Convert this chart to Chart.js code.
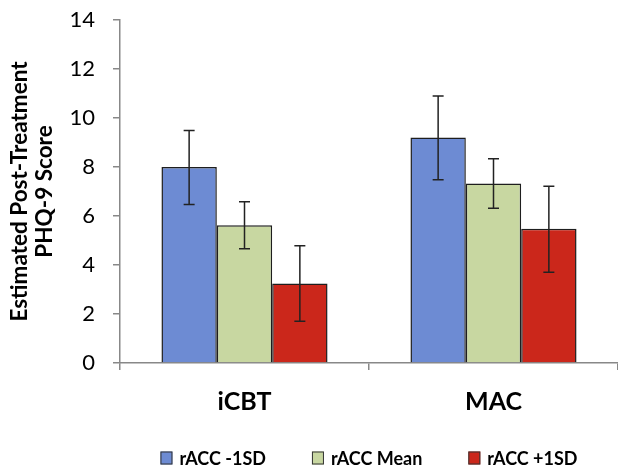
<!DOCTYPE html>
<html><head><meta charset="utf-8">
<script src="https://cdn.jsdelivr.net/npm/chart.js@4"></script>
<style>html,body{margin:0;padding:0;background:#fff}#wrap{width:618px;height:468px}</style>
</head><body><div id="wrap"><canvas id="c"></canvas></div>
<script>
const categories = ['iCBT', 'MAC'];
const seriesNames = ['rACC -1SD', 'rACC Mean', 'rACC +1SD'];
const minus1SD = [8.0, 9.2];
const meanVals = [5.62, 7.33];
const plus1SD = [3.25, 5.48];
const minus1SDLow = [6.47, 7.48];
const minus1SDHigh = [9.49, 10.9];
const meanLow = [4.66, 6.32];
const meanHigh = [6.58, 8.34];
const plus1SDLow = [1.7, 3.7];
const plus1SDHigh = [4.79, 7.21];
const yTicks = [0, 2, 4, 6, 8, 10, 12, 14];
const colors = ['#6d8bd3', '#c8d7a1', '#cb271b'];

const FONT = 'Lato, "Liberation Sans", sans-serif';

const errorBars = {
  id: 'errorBars',
  afterDatasetsDraw(chart) {
    const ctx = chart.ctx, y = chart.scales.y;
    chart.data.datasets.forEach((ds, i) => {
      const meta = chart.getDatasetMeta(i);
      meta.data.forEach((bar, j) => {
        const yl = y.getPixelForValue(ds.errLow[j]);
        const yh = y.getPixelForValue(ds.errHigh[j]);
        const x = bar.x;
        ctx.save();
        ctx.strokeStyle = '#222';
        ctx.lineWidth = 1.5;
        ctx.beginPath();
        ctx.moveTo(x, yl); ctx.lineTo(x, yh);
        ctx.moveTo(x - 5.5, yl); ctx.lineTo(x + 5.5, yl);
        ctx.moveTo(x - 5.5, yh); ctx.lineTo(x + 5.5, yh);
        ctx.stroke();
        ctx.restore();
      });
    });
  }
};

const customLegend = {
  id: 'customLegend',
  afterDraw(chart) {
    const ctx = chart.ctx, area = chart.chartArea;
    const box = 12, boxH = 13, gap = 7, spacing = 46;
    ctx.save();
    ctx.font = 'bold 18px ' + FONT;
    const items = chart.data.datasets.map(d => ({text: d.label, color: d.backgroundColor, w: ctx.measureText(d.label).width}));
    const total = items.reduce((s, it) => s + box + gap + it.w, 0) + spacing * (items.length - 1);
    let x = (area.left + area.right) / 2 - total / 2;
    const cy = 458;
    items.forEach(it => {
      ctx.fillStyle = it.color;
      ctx.fillRect(x, cy - boxH / 2, box, boxH);
      ctx.strokeStyle = '#333';
      ctx.lineWidth = 1;
      ctx.strokeRect(x + 0.5, cy - boxH / 2 + 0.5, box - 1, boxH - 1);
      ctx.fillStyle = '#000';
      ctx.textBaseline = 'middle';
      ctx.textAlign = 'left';
      ctx.fillText(it.text, x + box + gap, cy + 1);
      x += box + gap + it.w + spacing;
    });
    ctx.restore();
  }
};

new Chart(document.getElementById('c'), {
  type: 'bar',
  data: {
    labels: categories,
    datasets: [
      {label: seriesNames[0], data: minus1SD, errLow: minus1SDLow, errHigh: minus1SDHigh, backgroundColor: colors[0]},
      {label: seriesNames[1], data: meanVals, errLow: meanLow, errHigh: meanHigh, backgroundColor: colors[1]},
      {label: seriesNames[2], data: plus1SD, errLow: plus1SDLow, errHigh: plus1SDHigh, backgroundColor: colors[2]}
    ].map(d => Object.assign(d, {borderColor: '#1e1e1e', borderWidth: 1.5, barPercentage: 1, categoryPercentage: 0.667}))
  },
  options: {
    responsive: true,
    maintainAspectRatio: false,
    animation: false,
    devicePixelRatio: 1,
    layout: {padding: {top: 0, right: 0, left: 0, bottom: 49}},
    plugins: {
      legend: {display: false},
      tooltip: {enabled: false}
    },
    scales: {
      x: {
        grid: {display: true, drawOnChartArea: false, offset: true, color: '#888', tickLength: 7, lineWidth: 1.5},
        border: {color: '#888', width: 1.5},
        ticks: {font: {family: FONT, size: 25, weight: 'bold'}, color: '#000', padding: 17},
        afterFit(s) { s.height = 56; }
      },
      y: {
        min: 0, max: 14,
        afterBuildTicks(s) { s.ticks = yTicks.map(v => ({value: v})); },
        grid: {display: true, drawOnChartArea: false, color: '#888', tickLength: 7, lineWidth: 1.5},
        border: {color: '#888', width: 1.5},
        ticks: {font: {family: FONT, size: 22}, color: '#000', padding: 18},
        title: {display: true, text: ['Estimated Post-Treatment', 'PHQ-9 Score'], font: {family: FONT, size: 22.5, weight: 'bold', lineHeight: 1.12}, color: '#000', padding: {top: 7, bottom: 0}},
        afterFit(s) { s.width = 120; s.paddingTop = 20; }
      }
    }
  },
  plugins: [errorBars, customLegend]
});
</script></body></html>
